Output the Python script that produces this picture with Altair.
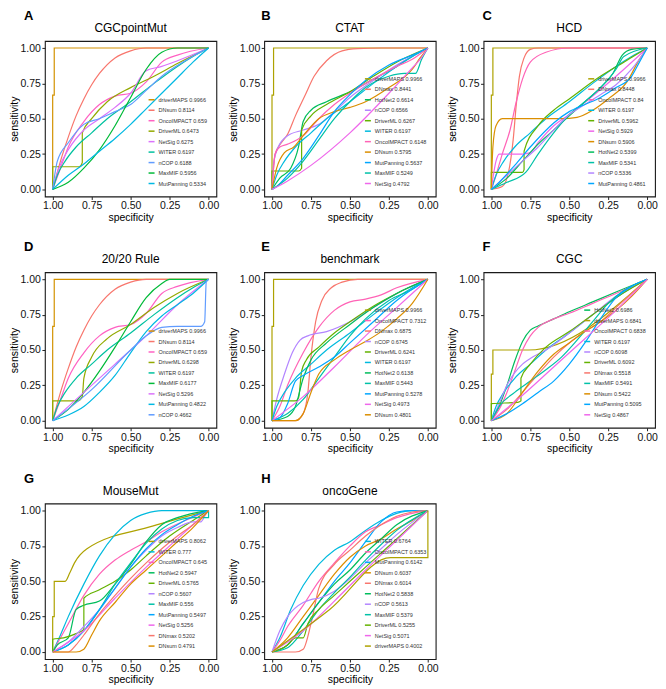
import altair as alt
import pandas as pd

FONT = "Liberation Sans"

P9 = {"DNsum": "#F8766D", "driverMAPS": "#D39200", "DriverML": "#93AA00", "MaxMIF": "#00BA38",
      "WITER": "#00C19F", "MutPanning": "#00B9E3", "nCOP": "#619CFF", "NetSig": "#DB72FB",
      "OncoIMPACT": "#FF61C3"}
P11 = {"DNmax": "#F8766D", "DNsum": "#DB8E00", "driverMAPS": "#AEA200", "DriverML": "#64B200",
       "HotNet2": "#00BD5C", "MaxMIF": "#00C1A7", "WITER": "#00BADE", "MutPanning": "#00A6FF",
       "nCOP": "#B385FF", "NetSig": "#EF67EB", "OncoIMPACT": "#FF63B6"}

TICKS = [0, 0.25, 0.5, 0.75, 1]

# ---------------- A: CGCpointMut ----------------
A_methods = ["driverMAPS", "DNsum", "OncoIMPACT", "DriverML", "NetSig", "WITER", "nCOP", "MaxMIF", "MutPanning"]
A_auc = [0.9966, 0.8114, 0.659, 0.6473, 0.6275, 0.6197, 0.6188, 0.5956, 0.5334]
A_spec = [
    [1, 1, 0.99, 0.99, 0],
    [1, 0.95, 0.9, 0.85, 0.8, 0.75, 0.7, 0.6, 0.5, 0.4, 0],
    [1, 0.95, 0.9, 0.8, 0.7, 0.6, 0.5, 0.4, 0.3, 0.2, 0],
    [1, 1, 0.83, 0.81, 0.81, 0.75, 0.65, 0.5, 0.35, 0.2, 0],
    [1, 0.96, 0.9, 0.8, 0.7, 0.6, 0.5, 0.4, 0.3, 0.2, 0],
    [1, 0.97, 0.92, 0.85, 0.75, 0.65, 0.5, 0.35, 0.2, 0.1, 0],
    [1, 0.97, 0.9, 0.8, 0.7, 0.6, 0.5, 0.4, 0.3, 0.15, 0],
    [1, 0.9, 0.8, 0.7, 0.6, 0.5, 0.4, 0.3, 0.2, 0],
    [1, 0.9, 0.8, 0.7, 0.6, 0.5, 0.4, 0.3, 0.2, 0.1, 0],
]
A_sens = [
    [0, 0.667, 0.667, 1, 1],
    [0, 0.2, 0.37, 0.52, 0.64, 0.74, 0.82, 0.93, 0.98, 1, 1],
    [0, 0.15, 0.3, 0.48, 0.6, 0.66, 0.68, 0.76, 0.9, 0.95, 1],
    [0, 0.16, 0.16, 0.19, 0.4, 0.5, 0.62, 0.72, 0.8, 0.89, 1],
    [0, 0.15, 0.28, 0.42, 0.5, 0.58, 0.68, 0.84, 0.87, 0.91, 1],
    [0, 0.1, 0.2, 0.3, 0.4, 0.5, 0.62, 0.75, 0.87, 0.94, 1],
    [0, 0.2, 0.33, 0.46, 0.5, 0.55, 0.6, 0.7, 0.8, 0.91, 1],
    [0, 0.05, 0.15, 0.28, 0.45, 0.65, 0.85, 0.97, 1, 1],
    [0, 0.1, 0.18, 0.27, 0.36, 0.46, 0.57, 0.68, 0.79, 0.9, 1],
]

# ---------------- B: CTAT ----------------
B_methods = ["driverMAPS", "DNmax", "HotNet2", "nCOP", "DriverML", "WITER", "OncoIMPACT", "DNsum", "MutPanning", "MaxMIF", "NetSig"]
B_auc = [0.9966, 0.8441, 0.6614, 0.6566, 0.6267, 0.6197, 0.6148, 0.5795, 0.5637, 0.5249, 0.4792]
B_spec = [
    [1, 1, 0.99, 0.99, 0],
    [1, 0.98, 0.94, 0.9, 0.85, 0.79, 0.73, 0.65, 0.55, 0.45, 0.3, 0],
    [1, 0.95, 0.88, 0.83, 0.8, 0.75, 0.65, 0.5, 0.35, 0.2, 0.1, 0],
    [1, 0.99, 0.96, 0.9, 0.8, 0.7, 0.6, 0.5, 0.35, 0.2, 0],
    [1, 1, 0.83, 0.81, 0.81, 0.75, 0.65, 0.5, 0.35, 0.2, 0],
    [1, 0.97, 0.92, 0.85, 0.75, 0.65, 0.5, 0.35, 0.2, 0.1, 0],
    [1, 0.98, 0.95, 0.9, 0.8, 0.7, 0.6, 0.5, 0.35, 0.2, 0.1, 0],
    [1, 0.97, 0.92, 0.86, 0.8, 0.7, 0.6, 0.5, 0.4, 0.25, 0.1, 0.05, 0],
    [1, 0.97, 0.9, 0.8, 0.7, 0.6, 0.5, 0.4, 0.25, 0.1, 0],
    [1, 0.9, 0.8, 0.7, 0.6, 0.5, 0.4, 0.25, 0.15, 0.08, 0.04, 0],
    [1, 0.9, 0.75, 0.5, 0.25, 0.1, 0.05, 0],
]
B_sens = [
    [0, 0.667, 0.667, 1, 1],
    [0, 0.25, 0.33, 0.39, 0.52, 0.66, 0.8, 0.91, 0.98, 0.995, 1, 1],
    [0, 0.08, 0.15, 0.3, 0.48, 0.56, 0.62, 0.69, 0.78, 0.87, 0.94, 1],
    [0, 0.18, 0.3, 0.38, 0.42, 0.46, 0.55, 0.65, 0.77, 0.88, 1],
    [0, 0.13, 0.13, 0.15, 0.42, 0.52, 0.6, 0.69, 0.8, 0.9, 1],
    [0, 0.1, 0.2, 0.3, 0.4, 0.5, 0.62, 0.75, 0.87, 0.94, 1],
    [0, 0.25, 0.3, 0.32, 0.38, 0.5, 0.6, 0.68, 0.78, 0.87, 0.92, 1],
    [0, 0.15, 0.26, 0.3, 0.38, 0.5, 0.55, 0.58, 0.62, 0.72, 0.85, 0.93, 1],
    [0, 0.02, 0.1, 0.22, 0.38, 0.55, 0.67, 0.77, 0.88, 0.95, 1],
    [0, 0.08, 0.2, 0.35, 0.5, 0.62, 0.72, 0.8, 0.82, 0.82, 0.92, 1],
    [0, 0.06, 0.17, 0.4, 0.68, 0.86, 0.92, 1],
]

# ---------------- C: HCD ----------------
C_methods = ["driverMAPS", "DNmax", "OncoIMPACT", "WITER", "DriverML", "NetSig", "DNsum", "HotNet2", "MaxMIF", "nCOP", "MutPanning"]
C_auc = [0.9966, 0.8448, 0.84, 0.6197, 0.5962, 0.5929, 0.5906, 0.5399, 0.5341, 0.5336, 0.4861]
C_spec = [
    [1, 1, 0.99, 0.99, 0],
    [1, 0.93, 0.89, 0.86, 0.84, 0.82, 0.79, 0.75, 0.7, 0],
    [1, 0.97, 0.93, 0.88, 0.84, 0.8, 0.75, 0.65, 0.5, 0],
    [1, 0.97, 0.92, 0.85, 0.75, 0.65, 0.5, 0.35, 0.2, 0.1, 0],
    [1, 1, 0.8, 0.79, 0.79, 0.7, 0.6, 0.5, 0.3, 0.15, 0],
    [1, 0.97, 0.95, 0.8, 0.75, 0.7, 0.6, 0.5, 0.35, 0.2, 0],
    [1, 0.99, 0.97, 0.93, 0.55, 0.45, 0.35, 0.25, 0.13, 0.05, 0],
    [1, 0.9, 0.8, 0.7, 0.6, 0.5, 0.4, 0.3, 0.22, 0.16, 0.1, 0],
    [1, 0.9, 0.78, 0.7, 0.6, 0.5, 0.4, 0.3, 0.2, 0.15, 0],
    [1, 0.9, 0.8, 0.7, 0.6, 0.5, 0.4, 0.3, 0.2, 0.1, 0],
    [1, 0.95, 0.85, 0.75, 0.6, 0.5, 0.4, 0.3, 0.2, 0.1, 0.05, 0],
]
C_sens = [
    [0, 0.667, 0.667, 1, 1],
    [0, 0.02, 0.12, 0.35, 0.6, 0.8, 0.93, 0.99, 1, 1],
    [0, 0.1, 0.25, 0.42, 0.62, 0.78, 0.9, 0.97, 1, 1],
    [0, 0.1, 0.2, 0.3, 0.4, 0.5, 0.62, 0.75, 0.87, 0.94, 1],
    [0, 0.12, 0.12, 0.14, 0.27, 0.45, 0.56, 0.64, 0.8, 0.9, 1],
    [0, 0.2, 0.25, 0.25, 0.26, 0.33, 0.45, 0.53, 0.66, 0.8, 1],
    [0, 0.3, 0.45, 0.5, 0.5, 0.51, 0.56, 0.64, 0.76, 0.92, 1],
    [0, 0.08, 0.2, 0.32, 0.42, 0.52, 0.62, 0.72, 0.82, 0.95, 0.99, 1],
    [0, 0.05, 0.12, 0.25, 0.4, 0.53, 0.62, 0.72, 0.85, 0.94, 1],
    [0, 0.1, 0.2, 0.3, 0.42, 0.53, 0.6, 0.67, 0.74, 0.85, 1],
    [0, 0.05, 0.17, 0.3, 0.47, 0.55, 0.6, 0.65, 0.72, 0.8, 0.9, 1],
]

# ---------------- D: 20/20 Rule ----------------
D_methods = ["driverMAPS", "DNsum", "OncoIMPACT", "DriverML", "WITER", "MaxMIF", "NetSig", "MutPanning", "nCOP"]
D_auc = [0.9966, 0.8114, 0.659, 0.6298, 0.6197, 0.6177, 0.5296, 0.4822, 0.4662]
D_spec = [
    [1, 1, 0.99, 0.99, 0],
    [1, 0.95, 0.9, 0.85, 0.8, 0.75, 0.7, 0.6, 0.5, 0.4, 0],
    [1, 0.95, 0.9, 0.8, 0.7, 0.6, 0.5, 0.4, 0.3, 0.2, 0],
    [1, 1, 0.84, 0.81, 0.8, 0.75, 0.65, 0.5, 0.35, 0.2, 0],
    [1, 0.97, 0.92, 0.85, 0.75, 0.65, 0.5, 0.35, 0.2, 0.1, 0],
    [1, 0.9, 0.8, 0.7, 0.6, 0.5, 0.4, 0.3, 0.25, 0],
    [1, 0.8, 0.6, 0.4, 0.2, 0],
    [1, 0.9, 0.8, 0.7, 0.6, 0.5, 0.4, 0.3, 0.2, 0.1, 0],
    [1, 0.75, 0.5, 0.4, 0.3, 0.2, 0.05, 0.025, 0.015, 0],
]
D_sens = [
    [0, 0.667, 0.667, 1, 1],
    [0, 0.2, 0.37, 0.52, 0.64, 0.74, 0.82, 0.93, 0.98, 1, 1],
    [0, 0.15, 0.3, 0.48, 0.6, 0.66, 0.68, 0.76, 0.9, 0.95, 1],
    [0, 0.14, 0.14, 0.17, 0.3, 0.45, 0.58, 0.68, 0.8, 0.9, 1],
    [0, 0.1, 0.2, 0.3, 0.4, 0.5, 0.62, 0.75, 0.87, 0.94, 1],
    [0, 0.08, 0.2, 0.35, 0.52, 0.7, 0.87, 0.97, 1, 1],
    [0, 0.2, 0.4, 0.6, 0.82, 1],
    [0, 0.04, 0.1, 0.2, 0.32, 0.48, 0.63, 0.74, 0.82, 0.9, 1],
    [0, 0.22, 0.5, 0.6, 0.66, 0.667, 0.667, 0.7, 0.98, 1],
]

# ---------------- E: benchmark ----------------
E_methods = ["driverMAPS", "OncoIMPACT", "DNmax", "nCOP", "DriverML", "WITER", "HotNet2", "MaxMIF", "MutPanning", "NetSig", "DNsum"]
E_auc = [0.9966, 0.7312, 0.6875, 0.6745, 0.6241, 0.6197, 0.6138, 0.5443, 0.5278, 0.4973, 0.4801]
E_spec = [
    [1, 1, 0.99, 0.99, 0],
    [1, 0.95, 0.9, 0.8, 0.7, 0.6, 0.5, 0.4, 0.3, 0.2, 0],
    [1, 0.85, 0.8, 0.77, 0.75, 0.72, 0.68, 0.62, 0.55, 0.45, 0],
    [1, 0.97, 0.92, 0.87, 0.82, 0.77, 0.65, 0.5, 0.35, 0.2, 0],
    [1, 1, 0.85, 0.83, 0.81, 0.78, 0.7, 0.6, 0.5, 0.35, 0.2, 0],
    [1, 0.97, 0.92, 0.85, 0.75, 0.65, 0.5, 0.35, 0.2, 0.1, 0],
    [1, 0.9, 0.85, 0.8, 0.75, 0.65, 0.5, 0.35, 0.2, 0],
    [1, 0.9, 0.8, 0.7, 0.6, 0.5, 0.4, 0.25, 0.1, 0],
    [1, 0.95, 0.9, 0.85, 0.8, 0.7, 0.6, 0.5, 0.35, 0.2, 0],
    [1, 0.8, 0.6, 0.4, 0.2, 0],
    [1, 0.85, 0.8, 0.75, 0.7, 0.6, 0.5, 0.4, 0.3, 0.2, 0.1, 0],
]
E_sens = [
    [0, 0.667, 0.667, 1, 1],
    [0, 0.1, 0.25, 0.48, 0.66, 0.78, 0.84, 0.86, 0.89, 0.94, 1],
    [0, 0.0, 0.05, 0.2, 0.45, 0.7, 0.85, 0.94, 0.98, 1, 1],
    [0, 0.15, 0.33, 0.48, 0.57, 0.6, 0.63, 0.7, 0.8, 0.9, 1],
    [0, 0.14, 0.14, 0.16, 0.35, 0.43, 0.52, 0.62, 0.7, 0.81, 0.9, 1],
    [0, 0.1, 0.2, 0.3, 0.4, 0.5, 0.62, 0.75, 0.87, 0.94, 1],
    [0, 0.03, 0.1, 0.3, 0.43, 0.55, 0.68, 0.8, 0.9, 1],
    [0, 0.05, 0.15, 0.3, 0.45, 0.6, 0.72, 0.85, 0.93, 1],
    [0, 0.02, 0.12, 0.28, 0.32, 0.38, 0.45, 0.55, 0.7, 0.85, 1],
    [0, 0.17, 0.38, 0.6, 0.8, 1],
    [0, 0.0, 0.05, 0.2, 0.33, 0.43, 0.5, 0.56, 0.63, 0.72, 0.83, 1],
]

# ---------------- F: CGC ----------------
F_methods = ["HotNet2", "driverMAPS", "OncoIMPACT", "WITER", "nCOP", "DriverML", "DNmax", "MaxMIF", "DNsum", "MutPanning", "NetSig"]
F_auc = [0.6986, 0.6841, 0.6838, 0.6197, 0.6098, 0.6092, 0.5518, 0.5491, 0.5422, 0.5095, 0.4867]
F_spec = [
    [1, 0.95, 0.9, 0.85, 0.8, 0.75, 0.7, 0.6, 0.5, 0.35, 0.2, 0],
    [1, 1, 0.99, 0.99, 0.76, 0],
    [1, 0.95, 0.9, 0.85, 0.8, 0.75, 0.7, 0.6, 0.5, 0.35, 0.2, 0],
    [1, 0.97, 0.92, 0.85, 0.75, 0.65, 0.5, 0.35, 0.2, 0.1, 0],
    [1, 0.95, 0.9, 0.8, 0.75, 0.65, 0.5, 0.35, 0.2, 0],
    [1, 1, 0.83, 0.81, 0.81, 0.75, 0.65, 0.5, 0.35, 0.2, 0],
    [1, 0.9, 0.8, 0.7, 0.6, 0.5, 0.4, 0.3, 0.2, 0],
    [1, 0.95, 0.85, 0.75, 0.65, 0.55, 0.45, 0.35, 0.25, 0.15, 0],
    [1, 0.9, 0.8, 0.7, 0.6, 0.5, 0.4, 0.3, 0.2, 0.1, 0],
    [1, 0.9, 0.8, 0.7, 0.6, 0.5, 0.4, 0.3, 0.2, 0.1, 0],
    [1, 0.8, 0.6, 0.4, 0.2, 0],
]
F_sens = [
    [0, 0.1, 0.25, 0.42, 0.56, 0.64, 0.67, 0.72, 0.77, 0.84, 0.91, 1],
    [0, 0.33, 0.33, 0.5, 0.5, 1],
    [0, 0.08, 0.2, 0.35, 0.5, 0.6, 0.66, 0.72, 0.76, 0.83, 0.9, 1],
    [0, 0.1, 0.2, 0.3, 0.4, 0.5, 0.62, 0.75, 0.87, 0.94, 1],
    [0, 0.12, 0.25, 0.4, 0.44, 0.5, 0.62, 0.75, 0.88, 1],
    [0, 0.12, 0.13, 0.14, 0.3, 0.4, 0.52, 0.63, 0.75, 0.87, 1],
    [0, 0.08, 0.2, 0.33, 0.45, 0.55, 0.63, 0.7, 0.8, 1],
    [0, 0.1, 0.2, 0.28, 0.36, 0.45, 0.57, 0.7, 0.83, 0.92, 1],
    [0, 0.05, 0.2, 0.35, 0.47, 0.55, 0.63, 0.7, 0.78, 0.88, 1],
    [0, 0.05, 0.12, 0.2, 0.28, 0.4, 0.55, 0.72, 0.87, 0.95, 1],
    [0, 0.18, 0.38, 0.58, 0.78, 1],
]

# ---------------- G: MouseMut ----------------
G_methods = ["driverMAPS", "WITER", "OncoIMPACT", "HotNet2", "DriverML", "nCOP", "MaxMIF", "MutPanning", "NetSig", "DNmax", "DNsum"]
G_auc = [0.8062, 0.777, 0.645, 0.5947, 0.5765, 0.5607, 0.556, 0.5497, 0.5256, 0.5202, 0.4791]
G_spec = [
    [1, 1, 0.99, 0.99, 0.92, 0.89, 0.86, 0.78, 0.36, 0],
    [1, 0.95, 0.9, 0.8, 0.7, 0.6, 0.5, 0.4, 0.3, 0],
    [1, 0.95, 0.9, 0.8, 0.7, 0.6, 0.5, 0.4, 0.3, 0.15, 0],
    [1, 0.97, 0.9, 0.85, 0.8, 0.7, 0.6, 0.5, 0.4, 0.3, 0.2, 0],
    [1, 1, 0.93, 0.85, 0.8, 0.8, 0.7, 0.6, 0.5, 0.4, 0.25, 0.1, 0],
    [1, 0.9, 0.8, 0.7, 0.6, 0.5, 0.4, 0.3, 0.2, 0.1, 0.05, 0.02, 0],
    [1, 0.9, 0.8, 0.7, 0.6, 0.5, 0.4, 0.3, 0.2, 0.1, 0, 0],
    [1, 0.9, 0.8, 0.7, 0.6, 0.5, 0.4, 0.3, 0.2, 0.1, 0],
    [1, 0.8, 0.6, 0.4, 0.2, 0],
    [1, 0.9, 0.85, 0.8, 0.7, 0.6, 0.5, 0.4, 0.3, 0.2, 0.1, 0],
    [1, 0.85, 0.8, 0.75, 0.7, 0.6, 0.5, 0.4, 0.3, 0.2, 0.1, 0],
]
G_sens = [
    [0, 0.25, 0.25, 0.5, 0.5, 0.56, 0.63, 0.73, 0.89, 1],
    [0, 0.12, 0.25, 0.48, 0.68, 0.83, 0.93, 0.98, 1, 1],
    [0, 0.1, 0.2, 0.4, 0.55, 0.65, 0.72, 0.78, 0.85, 0.93, 1],
    [0, 0.05, 0.1, 0.3, 0.33, 0.36, 0.48, 0.62, 0.78, 0.9, 0.95, 1],
    [0, 0.09, 0.1, 0.13, 0.16, 0.38, 0.44, 0.5, 0.58, 0.68, 0.82, 0.93, 1],
    [0, 0.07, 0.18, 0.3, 0.45, 0.6, 0.72, 0.82, 0.88, 0.92, 0.92, 0.97, 1],
    [0, 0.05, 0.15, 0.3, 0.48, 0.63, 0.77, 0.87, 0.93, 0.95, 0.95, 1],
    [0, 0.05, 0.15, 0.3, 0.45, 0.6, 0.73, 0.83, 0.9, 0.96, 1],
    [0, 0.15, 0.38, 0.6, 0.8, 1],
    [0, 0.0, 0.05, 0.12, 0.27, 0.4, 0.52, 0.63, 0.73, 0.82, 0.9, 1],
    [0, 0, 0.02, 0.12, 0.22, 0.35, 0.48, 0.58, 0.68, 0.78, 0.88, 1],
]

# ---------------- H: oncoGene ----------------
H_methods = ["WITER", "OncoIMPACT", "MutPanning", "DNsum", "DNmax", "HotNet2", "nCOP", "MaxMIF", "DriverML", "NetSig", "driverMAPS"]
H_auc = [0.6764, 0.6353, 0.6142, 0.6037, 0.6014, 0.5838, 0.5613, 0.5379, 0.5255, 0.5071, 0.4002]
H_spec = [
    [1, 0.95, 0.88, 0.8, 0.7, 0.6, 0.5, 0.4, 0.3, 0.2, 0.1, 0],
    [1, 0.95, 0.9, 0.8, 0.7, 0.6, 0.5, 0.4, 0.3, 0.2, 0],
    [1, 0.9, 0.8, 0.7, 0.6, 0.5, 0.4, 0.3, 0.2, 0.1, 0],
    [1, 0.9, 0.8, 0.7, 0.6, 0.5, 0.4, 0.3, 0.2, 0.1, 0],
    [1, 0.85, 0.8, 0.75, 0.7, 0.6, 0.5, 0.4, 0.3, 0.2, 0.1, 0],
    [1, 0.9, 0.8, 0.7, 0.6, 0.5, 0.4, 0.3, 0.2, 0],
    [1, 0.95, 0.9, 0.8, 0.75, 0.7, 0.6, 0.5, 0.4, 0.3, 0.2, 0],
    [1, 0.9, 0.8, 0.7, 0.6, 0.5, 0.4, 0.3, 0.2, 0],
    [1, 0.9, 0.85, 0.8, 0.77, 0.7, 0.6, 0.5, 0.4, 0.3, 0.2, 0],
    [1, 0.8, 0.6, 0.4, 0.2, 0],
    [1, 0.63, 0.24, 0, 0],
]
H_sens = [
    [0, 0.1, 0.3, 0.47, 0.62, 0.72, 0.78, 0.86, 0.93, 0.98, 1, 1],
    [0, 0.08, 0.18, 0.33, 0.5, 0.63, 0.75, 0.85, 0.9, 0.95, 1],
    [0, 0.05, 0.2, 0.35, 0.5, 0.63, 0.78, 0.92, 0.99, 1, 1],
    [0, 0.1, 0.25, 0.4, 0.55, 0.67, 0.75, 0.8, 0.87, 0.93, 1],
    [0, 0.0, 0.02, 0.2, 0.45, 0.62, 0.72, 0.82, 0.9, 0.96, 0.99, 1],
    [0, 0.05, 0.2, 0.35, 0.48, 0.58, 0.7, 0.8, 0.9, 1],
    [0, 0.15, 0.25, 0.35, 0.37, 0.38, 0.43, 0.52, 0.63, 0.73, 0.83, 1],
    [0, 0.03, 0.15, 0.3, 0.42, 0.53, 0.65, 0.76, 0.86, 1],
    [0, 0.05, 0.1, 0.1, 0.2, 0.3, 0.4, 0.5, 0.6, 0.7, 0.8, 1],
    [0, 0.15, 0.36, 0.58, 0.79, 1],
    [0, 0.3, 0.667, 0.667, 1],
]

W, H = 172, 156
LETTER_X = [-21, -3, -1]


def panel(letter, name, methods, auc, specs, senss, palette, col):
    labels = [f"{m} {a}" for m, a in zip(methods, auc)]
    rows = []
    for lab, xs, ys in zip(labels, specs, senss):
        for i, (x, y) in enumerate(zip(xs, ys)):
            rows.append({"spec": x, "sens": y, "label": lab, "i": i})
    df = pd.DataFrame(rows)
    colors = [palette[m] for m in methods]
    sc = alt.Scale(domain=[-0.05, 1.05], nice=False, zero=False)
    scx = alt.Scale(domain=[-0.05, 1.05], nice=False, zero=False, reverse=True)
    ax = dict(values=TICKS, format=".2f", titleFontWeight="normal", titleFont=FONT, titleFontSize=10.5,
              labelFont=FONT, labelFontSize=10.5)
    lines = alt.Chart(df).mark_line(interpolate="monotone", strokeWidth=1.2).encode(
        x=alt.X("spec:Q", scale=scx, axis=alt.Axis(title="specificity", **ax)),
        y=alt.Y("sens:Q", scale=sc, axis=alt.Axis(title="sensitivity", **ax)),
        color=alt.Color("label:N", scale=alt.Scale(domain=labels, range=colors),
                        legend=alt.Legend(title=None, orient="bottom-right", labelFontSize=5.5,
                                          labelFont=FONT, symbolType="stroke", symbolSize=36,
                                          symbolStrokeWidth=1.5, rowPadding=2.5, labelOffset=3,
                                          padding=0, offset=9)),
        order=alt.Order("i:Q"),
    )
    let = alt.Chart(pd.DataFrame({"t": [letter]})).mark_text(
        font=FONT, fontSize=13, fontWeight="bold", align="left", baseline="alphabetic", color="black"
    ).encode(text="t:N", x=alt.value(LETTER_X[col]), y=alt.value(-21))
    ttl = alt.Chart(pd.DataFrame({"t": [name]})).mark_text(
        font=FONT, fontSize=12, align="center", baseline="alphabetic", color="black"
    ).encode(text="t:N", x=alt.value(W / 2), y=alt.value(-9))
    return alt.layer(lines, let, ttl).properties(width=W, height=H)


pA = panel("A", "CGCpointMut", A_methods, A_auc, A_spec, A_sens, P9, 0)
pB = panel("B", "CTAT", B_methods, B_auc, B_spec, B_sens, P11, 1)
pC = panel("C", "HCD", C_methods, C_auc, C_spec, C_sens, P11, 2)
pD = panel("D", "20/20 Rule", D_methods, D_auc, D_spec, D_sens, P9, 0)
pE = panel("E", "benchmark", E_methods, E_auc, E_spec, E_sens, P11, 1)
pF = panel("F", "CGC", F_methods, F_auc, F_spec, F_sens, P11, 2)
pG = panel("G", "MouseMut", G_methods, G_auc, G_spec, G_sens, P11, 0)
pH = panel("H", "oncoGene", H_methods, H_auc, H_spec, H_sens, P11, 1)

row1 = alt.hconcat(pA, pB, pC, spacing=8).resolve_scale(color="independent")
row2 = alt.hconcat(pD, pE, pF, spacing=8).resolve_scale(color="independent")
row3 = alt.hconcat(pG, pH, spacing=8).resolve_scale(color="independent")

chart = alt.vconcat(row1, row2, row3, spacing=16).resolve_scale(color="independent").properties(
    background="white", padding=0
).configure_view(
    stroke="#1a1a1a", strokeWidth=1.1
).configure_axis(
    grid=False, domain=False, tickColor="#222222", tickSize=3, tickWidth=1,
    labelFont=FONT, labelFontSize=10.5, labelColor="#111111", labelPadding=1.5,
    titleFont=FONT, titleFontSize=10.5, titleFontWeight="normal", titleColor="black", titlePadding=1,
).configure_legend(
    labelFont=FONT, labelFontSize=5.5, labelColor="#333333", symbolType="stroke", symbolSize=36,
    symbolStrokeWidth=1.5, rowPadding=2.5, labelOffset=3, padding=0, offset=9,
)

chart.save("out.html", embed_options={"renderer": "svg", "actions": False})
